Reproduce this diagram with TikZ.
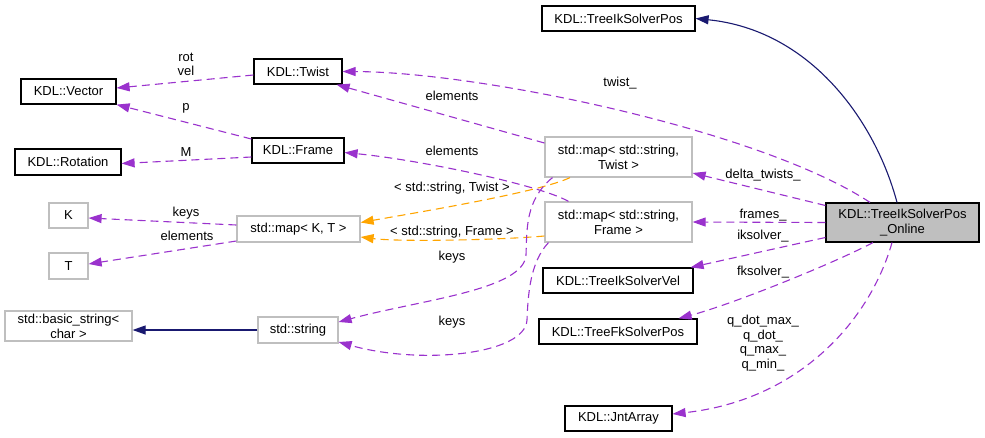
\documentclass[tikz,border=0pt]{standalone}
\usepackage{fontspec}
\setmainfont{Liberation Sans}
\usetikzlibrary{arrows.meta}
\definecolor{memberc}{HTML}{9A32CD}
\definecolor{tmplc}{HTML}{FFA500}
\definecolor{inheritc}{HTML}{191970}
\definecolor{nodoc}{HTML}{BFBFBF}

\begin{document}
\begin{tikzpicture}[
x=1pt, y=-1pt,
font=\fontsize{13}{15}\selectfont,
documented/.style = {draw=black, line width=1.2pt, inner sep=0pt, align=center},
undocumented/.style = {draw=nodoc, line width=1.2pt, inner sep=0pt, align=center},
uses/.style = {draw=memberc, line width=1.1pt, dash pattern=on 8pt off 5pt, -{Triangle[length=13pt,width=9pt]}},
tmpl/.style = {draw=tmplc, line width=1.1pt, dash pattern=on 8pt off 5pt, -{Triangle[length=13pt,width=9pt]}},
inherit/.style = {draw=inheritc, line width=1.1pt, -{Triangle[length=13pt,width=9pt]}},
lbl/.style = {inner sep=0pt, align=center, font=\fontsize{13}{14.5}\selectfont} ]
\useasboundingbox (0,0) rectangle (985,437);

\node[documented, fill=nodoc, minimum width=153pt, minimum height=39pt] (online) at (902.5,222.5) {KDL::TreeIkSolverPos\\\_Online};
\node[documented, minimum width=153pt, minimum height=25pt] (ikpos) at (618.5,18.5) {KDL::TreeIkSolverPos};
\node[documented, minimum width=88pt, minimum height=25pt] (twist) at (298,71.5) {KDL::Twist};
\node[documented, minimum width=95pt, minimum height=25pt] (vector) at (68.5,91.5) {KDL::Vector};
\node[documented, minimum width=92pt, minimum height=25pt] (frame) at (298,150.5) {KDL::Frame};
\node[documented, minimum width=106pt, minimum height=26pt] (rotation) at (68,162) {KDL::Rotation};
\node[undocumented, minimum width=147pt, minimum height=40pt] (maptwist) at (618.5,157) {std::map< std::string,\\Twist >};
\node[undocumented, minimum width=147pt, minimum height=40pt] (mapframe) at (618.5,222) {std::map< std::string,\\Frame >};
\node[undocumented, minimum width=39pt, minimum height=25pt] (kk) at (68.5,215.5) {K};
\node[undocumented, minimum width=123pt, minimum height=26pt] (mapkt) at (298.5,229) {std::map< K, T >};
\node[undocumented, minimum width=39pt, minimum height=26pt] (tt) at (68.5,266) {T};
\node[documented, minimum width=150pt, minimum height=25pt] (ikvel) at (618,280.5) {KDL::TreeIkSolverVel};
\node[documented, minimum width=158pt, minimum height=25pt] (fkpos) at (618,331.5) {KDL::TreeFkSolverPos};
\node[documented, minimum width=107pt, minimum height=25pt] (jnt) at (618.5,418.5) {KDL::JntArray};
\node[undocumented, minimum width=127pt, minimum height=30pt] (basicstr) at (68.5,326) {std::basic\_string<\\char >};
\node[undocumented, minimum width=80pt, minimum height=26pt] (stdstr) at (298,330) {std::string};

% members of the online solver
\draw[inherit] ([xshift=-5.5pt]online.north) .. controls (875,120) and (810,30) .. (ikpos.east);
\draw[uses] ([xshift=-32.5pt]online.north) .. controls (760,130) and (480,72) .. (twist.east) node[lbl] at (620,83) {twist\_};
\draw[uses] ([yshift=17pt]online.west) -- ([yshift=-16pt]maptwist.east) node[lbl] at (763,175) {delta\_twists\_};
\draw[uses] (online.west) -- (mapframe.east) node[lbl] at (763,215) {frames\_};
\draw[uses] ([yshift=-15pt]online.west) -- ([xshift=-3pt]ikvel.north east) node[lbl] at (763,236) {iksolver\_};
\draw[uses] ([xshift=-29.5pt]online.south) .. controls (830,265) and (730,305) .. ([xshift=-19pt]fkpos.north east) node[lbl] at (763,272) {fksolver\_};
\draw[uses] ([xshift=-10.5pt]online.south) .. controls (870,320) and (800,400) .. ([yshift=4.5pt]jnt.east) node[lbl] at (763,343) {q\_dot\_max\_\\q\_dot\_\\q\_max\_\\q\_min\_};

% KDL types
\draw[uses] ([yshift=-3.5pt]twist.west) -- ([yshift=3.5pt]vector.east) node[lbl] at (186,64.5) {rot\\vel};
\draw[uses] ([yshift=11.5pt]frame.west) -- (vector.south east) node[lbl] at (186,108) {p};
\draw[uses] ([yshift=-6.5pt]frame.west) -- ([yshift=-1.5pt]rotation.east) node[lbl] at (186,152) {M};

% maps
\draw[uses] ([yshift=14pt]maptwist.west) -- ([xshift=-6pt]twist.south east) node[lbl] at (452,96) {elements};
\draw[uses] ([xshift=-50pt]mapframe.north) .. controls (540,185) and (420,160) .. ([yshift=-2pt]frame.east) node[lbl] at (452,151) {elements};
\draw[tmpl] ([xshift=-48.5pt]maptwist.south) .. controls (540,192) and (420,212) .. ([yshift=6.5pt]mapkt.east) node[lbl] at (452,188) {< std::string, Twist >};
\draw[tmpl] ([yshift=-14pt]mapframe.west) .. controls (500,240) and (400,242) .. ([yshift=-8pt]mapkt.east) node[lbl] at (452,232) {< std::string, Frame >};
\draw[uses] ([yshift=4pt]mapkt.west) -- ([yshift=-2.5pt]kk.east) node[lbl] at (186,213) {keys};
\draw[uses] ([yshift=-12pt]mapkt.west) -- ([yshift=2pt]tt.east) node[lbl] at (187,236) {elements};
\draw[uses] ([xshift=-66pt]maptwist.south) .. controls (525,200) and (527,230) .. (526,255) .. controls (524,290) and (420,300) .. ([yshift=8pt]stdstr.east) node[lbl] at (452,257) {keys};
\draw[uses] ([xshift=-70pt]mapframe.south) .. controls (530,262) and (528,295) .. (527,320) .. controls (525,355) and (420,365) .. ([yshift=-12pt]stdstr.east) node[lbl] at (452,322) {keys};

% strings
\draw[inherit] (stdstr.west) -- ([yshift=-4pt]basicstr.east);

\end{tikzpicture}
\end{document}
